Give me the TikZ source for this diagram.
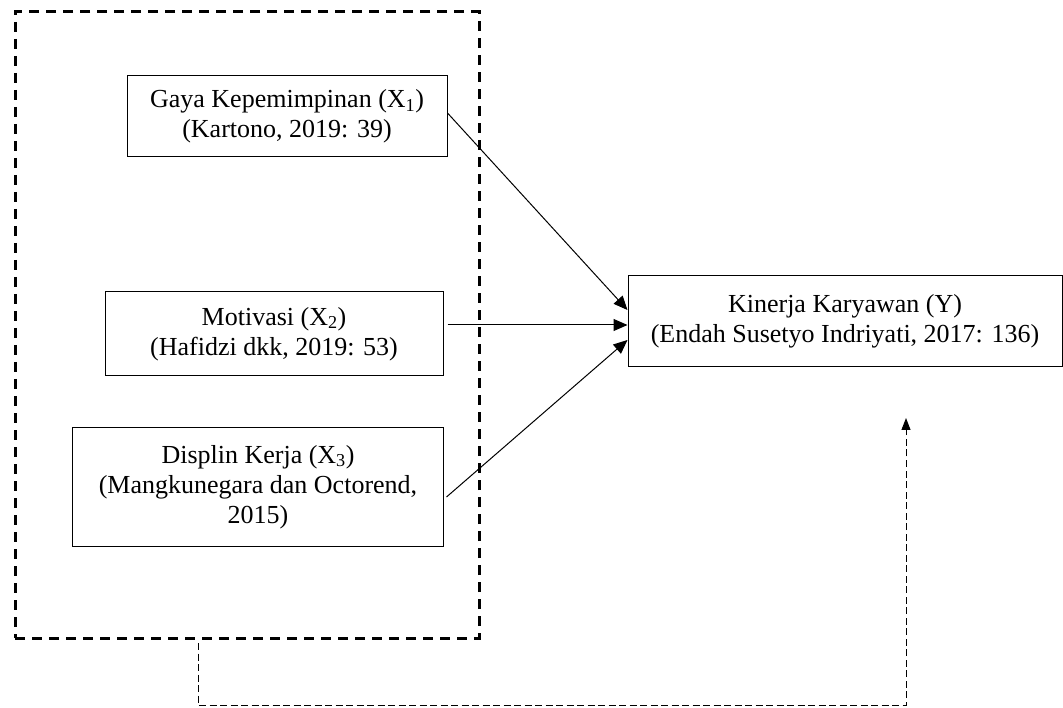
\documentclass[tikz,border=0pt]{standalone}
\usepackage{fontspec}
\setmainfont{Liberation Serif}
\usetikzlibrary{arrows.meta}
\begin{document}
\begin{tikzpicture}[x=1pt,y=-1pt,
  txt/.style={font=\fontsize{26pt}{30pt}\selectfont},
  varbox/.style={draw=black, line width=1pt, align=center, inner sep=0pt, txt},
  grpbox/.style={draw=black, line width=3pt, dash pattern=on 10pt off 7pt},
  arr/.style={line width=1pt, -{Triangle[length=14pt,width=12pt]}},
  fb/.style={line width=1pt, dash pattern=on 7pt off 3.5pt, -{Triangle[length=12pt,width=9pt]}}]
\useasboundingbox (0,0) rectangle (1063,708);
\node[grpbox, minimum width=464pt, minimum height=626pt] (grp) at (247,325) {};
\node[varbox, minimum width=320pt, minimum height=81pt] (b1) at (287,116.5)
  {Gaya Kepemimpinan (X\textsubscript{1})\\(Kartono, 2019: 39)};
\node[varbox, minimum width=338pt, minimum height=84pt] (b2) at (274,334)
  {Motivasi (X\textsubscript{2})\\(Hafidzi dkk, 2019: 53)};
\node[varbox, minimum width=371pt, minimum height=118pt] (b3) at (258,487)
  {Displin Kerja (X\textsubscript{3})\\(Mangkunegara dan Octorend,\\2015)};
\node[varbox, minimum width=434pt, minimum height=91pt] (y) at (845,321.5)
  {Kinerja Karyawan (Y)\\(Endah Susetyo Indriyati, 2017: 136)};
\coordinate (s2) at ([xshift=4pt,yshift=9pt]b2.east);
\coordinate (s3) at ([xshift=2.5pt,yshift=-10pt]b3.east);
\draw[arr] ([yshift=3.5pt]b1.east) -- ([yshift=11.5pt]y.west);
\draw[arr] (s2) -- ([yshift=-3.5pt]y.west);
\draw[arr] (s3) -- ([yshift=-18.5pt]y.west);
\coordinate (fs) at (198,643);
\coordinate (fc) at (198,705);
\coordinate (fe) at (906,418);
\draw[fb] (fs) -- (fc) -| (fe);
\end{tikzpicture}
\end{document}
